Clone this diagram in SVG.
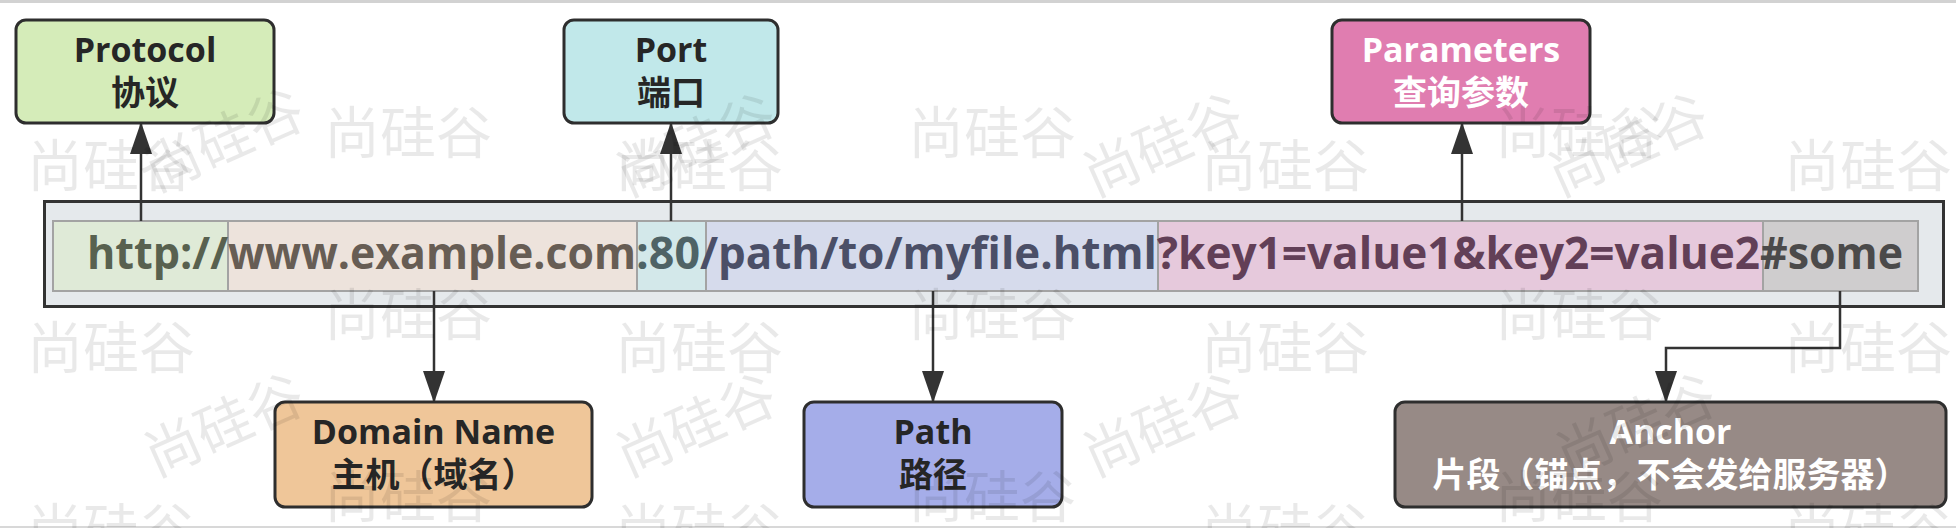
<svg xmlns="http://www.w3.org/2000/svg" width="1956" height="528" viewBox="0 0 1956 528">
  <defs>
    <style>
      .node rect { stroke: #2e2e2e; stroke-width: 3; }
      .lbl { font-family: 'Open Sans', 'Noto Sans CJK SC', sans-serif; font-weight: bold; font-size: 34px; text-anchor: middle; fill: #262626; }
      .cjk { font-family: 'Noto Sans CJK SC', sans-serif; font-weight: bold; font-size: 34px; text-anchor: middle; fill: #262626; }
      .wht { fill: #ffffff; }
      .seg { stroke: #a3a3a3; stroke-width: 2; }
      .url { font-family: 'Open Sans', sans-serif; font-weight: bold; font-size: 44px; }
      .conn { fill: none; stroke: #333333; stroke-width: 2.5; marker-end: url(#arrow); }
      .wm { font-family: 'Noto Sans CJK SC', sans-serif; font-size: 56px; fill: #000000; fill-opacity: 0.085; }
    </style>
    <marker id="arrow" markerUnits="userSpaceOnUse" markerWidth="32" markerHeight="22" refX="31" refY="11" orient="auto">
      <path d="M0,0 L32,11 L0,22 Z" fill="#333333"/>
    </marker>
  </defs>

  <rect x="0" y="0" width="1956" height="528" fill="#ffffff"/>
  <rect x="0" y="0" width="1956" height="3" fill="#d2d2d2"/>
  <rect x="0" y="526" width="1956" height="2" fill="#d8d8d8"/>

  <g id="url-bar">
    <rect x="44.5" y="201.5" width="1899" height="105" fill="#e5e9ec" stroke="#333333" stroke-width="3"/>
    <rect class="seg" x="53" y="221" width="175" height="70" fill="#dfead7"/>
    <rect class="seg" x="228" y="221" width="409" height="70" fill="#ede3dc"/>
    <rect class="seg" x="637" y="221" width="69" height="70" fill="#d3e8ea"/>
    <rect class="seg" x="706" y="221" width="452" height="70" fill="#d6dbec"/>
    <rect class="seg" x="1158" y="221" width="605" height="70" fill="#e6c9dc"/>
    <rect class="seg" x="1763" y="221" width="155" height="70" fill="#cfcdce"/>
    <text class="url" x="87" y="269" fill="#58614f" textLength="141" lengthAdjust="spacingAndGlyphs">http://</text>
    <text class="url" x="228" y="269" fill="#675d54" textLength="408" lengthAdjust="spacingAndGlyphs">www.example.com</text>
    <text class="url" x="636" y="269" fill="#4f6366" textLength="64" lengthAdjust="spacingAndGlyphs">:80</text>
    <text class="url" x="700" y="269" fill="#4b4f67" textLength="457" lengthAdjust="spacingAndGlyphs">/path/to/myfile.html</text>
    <text class="url" x="1157" y="269" fill="#623f57" textLength="603" lengthAdjust="spacingAndGlyphs">?key1=value1&amp;key2=value2</text>
    <text class="url" x="1760" y="269" fill="#4b4a4a" textLength="143" lengthAdjust="spacingAndGlyphs">#some</text>
  </g>

  <g id="connectors">
    <path class="conn" d="M141,221 L141,123"/>
    <path class="conn" d="M671,221 L671,123"/>
    <path class="conn" d="M1462,221 L1462,123"/>
    <path class="conn" d="M434,291 L434,402"/>
    <path class="conn" d="M933,291 L933,402"/>
    <path class="conn" d="M1840,291 L1840,348 L1666,348 L1666,402"/>
  </g>

  <g id="protocol" class="node">
    <rect x="16" y="20" width="258" height="103" rx="10" fill="#d5ecb9"/>
    <text class="lbl" x="145" y="62">Protocol</text>
    <text class="cjk" x="145" y="105">协议</text>
  </g>
  <g id="port" class="node">
    <rect x="564" y="20" width="214" height="103" rx="10" fill="#c1e8ea"/>
    <text class="lbl" x="671" y="62">Port</text>
    <text class="cjk" x="671" y="105">端口</text>
  </g>
  <g id="parameters" class="node">
    <rect x="1332" y="20" width="258" height="103" rx="10" fill="#e07db0"/>
    <text class="lbl wht" x="1461" y="62">Parameters</text>
    <text class="cjk wht" x="1461" y="105">查询参数</text>
  </g>
  <g id="domain" class="node">
    <rect x="275" y="402" width="317" height="105" rx="10" fill="#efc699"/>
    <text class="lbl" x="433.5" y="444">Domain Name</text>
    <text class="cjk" x="433.5" y="487">主机（域名）</text>
  </g>
  <g id="path" class="node">
    <rect x="804" y="402" width="258" height="105" rx="10" fill="#a5ade9"/>
    <text class="lbl" x="933" y="444">Path</text>
    <text class="cjk" x="933" y="487">路径</text>
  </g>
  <g id="anchor" class="node">
    <rect x="1395" y="402" width="551" height="105" rx="10" fill="#978a86"/>
    <text class="lbl wht" x="1670.5" y="444">Anchor</text>
    <text class="cjk wht" x="1670.5" y="487">片段（锚点，不会发给服务器）</text>
  </g>

  <g id="watermark">
    <text class="wm" x="27" y="186">尚硅谷</text>
    <text class="wm" x="615" y="186">尚硅谷</text>
    <text class="wm" x="1201" y="186">尚硅谷</text>
    <text class="wm" x="1784" y="186">尚硅谷</text>
    <text class="wm" x="27" y="368">尚硅谷</text>
    <text class="wm" x="615" y="368">尚硅谷</text>
    <text class="wm" x="1201" y="368">尚硅谷</text>
    <text class="wm" x="1784" y="368">尚硅谷</text>
    <text class="wm" x="27" y="550">尚硅谷</text>
    <text class="wm" x="615" y="550">尚硅谷</text>
    <text class="wm" x="1201" y="550">尚硅谷</text>
    <text class="wm" x="1784" y="550">尚硅谷</text>
    <text class="wm" x="324" y="153">尚硅谷</text>
    <text class="wm" x="908" y="153">尚硅谷</text>
    <text class="wm" x="1495" y="153">尚硅谷</text>
    <text class="wm" x="324" y="335">尚硅谷</text>
    <text class="wm" x="908" y="335">尚硅谷</text>
    <text class="wm" x="1495" y="335">尚硅谷</text>
    <text class="wm" x="324" y="517">尚硅谷</text>
    <text class="wm" x="908" y="517">尚硅谷</text>
    <text class="wm" x="1495" y="517">尚硅谷</text>
    <text class="wm" transform="translate(224,140) rotate(-24)" x="0" y="20" text-anchor="middle">尚硅谷</text>
    <text class="wm" transform="translate(696,145) rotate(-24)" x="0" y="20" text-anchor="middle">尚硅谷</text>
    <text class="wm" transform="translate(1163,145) rotate(-24)" x="0" y="20" text-anchor="middle">尚硅谷</text>
    <text class="wm" transform="translate(1628,145) rotate(-24)" x="0" y="20" text-anchor="middle">尚硅谷</text>
    <text class="wm" transform="translate(224,425) rotate(-24)" x="0" y="20" text-anchor="middle">尚硅谷</text>
    <text class="wm" transform="translate(696,425) rotate(-24)" x="0" y="20" text-anchor="middle">尚硅谷</text>
    <text class="wm" transform="translate(1163,425) rotate(-24)" x="0" y="20" text-anchor="middle">尚硅谷</text>
    <text class="wm" transform="translate(1636,425) rotate(-24)" x="0" y="20" text-anchor="middle">尚硅谷</text>
  </g>
</svg>
